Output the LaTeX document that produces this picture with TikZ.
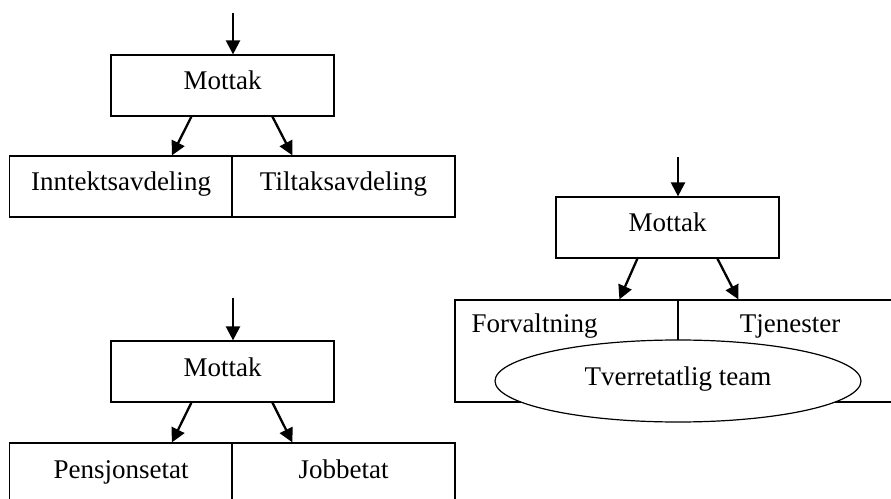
\documentclass[tikz,border=0pt]{standalone}
\usepackage{fontspec}
\setmainfont{Liberation Serif}
\usetikzlibrary{arrows.meta,calc,shapes.geometric}
\tikzset{
  box/.style={draw, line width=1.2bp, rectangle, minimum width=223bp, minimum height=61bp, inner sep=0pt,
    font=\fontsize{27bp}{32bp}\selectfont, text height=18bp, text depth=9bp},
  tallbox/.style={draw, line width=1.2bp, rectangle, minimum width=223bp, minimum height=102bp, inner sep=0pt},
  lbl/.style={font=\fontsize{27bp}{32bp}\selectfont, inner sep=0pt, anchor=base},
  arr/.style={line width=2.3bp, -{Triangle[length=14bp,width=14bp]}},
  oval/.style={draw, line width=1.2bp, fill=white, ellipse, minimum width=366bp, minimum height=82bp, inner sep=0pt,
    font=\fontsize{27bp}{32bp}\selectfont, text height=18bp, text depth=9bp}
}
\begin{document}
\begin{tikzpicture}[x=1bp,y=-1bp]
\useasboundingbox (0,0) rectangle (891,499);
\clip (0,0) rectangle (891,499);
% top-left
\node[box] (m1) at (222.5,85.5) {Mottak};
\node[box] (a1) at (121,186.5) {Inntektsavdeling};
\node[box] (b1) at (343.5,186.5) {Tiltaksavdeling};
\coordinate (s1) at (233,13);
\draw[arr] (s1) -- (s1 |- m1.north);
\draw[arr] ($(m1.south west)+(81,0)$) -- ($(a1.north west)+(163,0)$);
\draw[arr] ($(m1.south west)+(162,0)$) -- ($(b1.north west)+(61,0)$);
% bottom-left
\node[box] (m2) at (222.5,371.5) {Mottak};
\node[box] (a2) at (121,473.5) {Pensjonsetat};
\node[box] (b2) at (343.5,473.5) {Jobbetat};
\coordinate (s2) at (233,298);
\draw[arr] (s2) -- (s2 |- m2.north);
\draw[arr] ($(m2.south west)+(81,0)$) -- ($(a2.north west)+(163,0)$);
\draw[arr] ($(m2.south west)+(162,0)$) -- ($(b2.north west)+(61,0)$);
% right
\node[box] (m3) at (667.5,227.5) {Mottak};
\node[tallbox] (a3) at (566.5,351) {};
\node[tallbox] (b3) at (789.5,351) {};
\node[lbl] (ta3) at (534.5,333) {Forvaltning};
\node[lbl] (tb3) at (790,333) {Tjenester};
\coordinate (s3) at (678,157);
\draw[arr] (s3) -- (s3 |- m3.north);
\draw[arr] ($(m3.south west)+(82,0)$) -- ($(a3.north west)+(165,0)$);
\draw[arr] ($(m3.south west)+(162,0)$) -- ($(b3.north west)+(61,0)$);
\node[oval] (t3) at (678,381) {Tverretatlig team};
\end{tikzpicture}
\end{document}
